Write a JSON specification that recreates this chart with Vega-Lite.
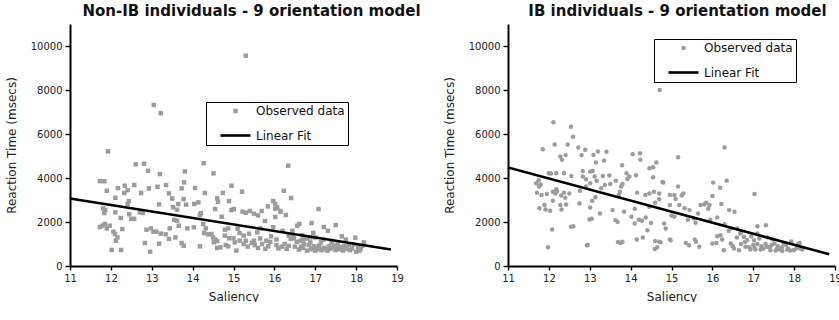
{
  "$schema": "https://vega.github.io/schema/vega-lite/v6.json",
  "background": "white",
  "padding": {"left": 5, "top": 4, "right": 0, "bottom": 0},
  "spacing": 22,
  "config": {
    "font": "DejaVu Sans",
    "view": {"stroke": null},
    "axis": {
      "grid": false,
      "domainColor": "#000",
      "domainWidth": 2,
      "tickColor": "#000",
      "tickWidth": 1.4,
      "labelFont": "DejaVu Sans",
      "labelFontSize": 10,
      "labelColor": "#222",
      "labelOverlap": false,
      "labelFlush": false,
      "titleFont": "DejaVu Sans",
      "titleFontSize": 12,
      "titleFontWeight": "normal",
      "titleColor": "#222"
    },
    "legend": {
      "title": null,
      "strokeColor": "#000",
      "fillColor": "#fff",
      "padding": 3,
      "rowPadding": -12,
      "labelFont": "DejaVu Sans",
      "labelFontSize": 12,
      "labelColor": "#111",
      "labelOffset": 4,
      "symbolOffset": 10,
      "symbolStrokeWidth": 2.6
    }
  },
  "resolve": {
    "scale": {"fill": "independent", "stroke": "independent", "shape": "independent", "size": "independent"},
    "legend": {"fill": "independent", "stroke": "independent", "shape": "independent", "size": "independent"}
  },
  "datasets": {
    "nonIB": [
      {"saliency": 11.93, "rt": 5210}, {"saliency": 13.05, "rt": 7320}, {"saliency": 13.22, "rt": 6950}, {"saliency": 15.30, "rt": 9560},
      {"saliency": 12.61, "rt": 4620}, {"saliency": 12.81, "rt": 4650}, {"saliency": 12.91, "rt": 4330}, {"saliency": 13.20, "rt": 4180},
      {"saliency": 13.81, "rt": 4300}, {"saliency": 14.27, "rt": 4670}, {"saliency": 14.51, "rt": 4210}, {"saliency": 16.34, "rt": 4560},
      {"saliency": 11.73, "rt": 3860}, {"saliency": 11.84, "rt": 3850}, {"saliency": 11.90, "rt": 3420}, {"saliency": 12.17, "rt": 3540},
      {"saliency": 12.34, "rt": 3650}, {"saliency": 12.41, "rt": 3450}, {"saliency": 12.57, "rt": 3680}, {"saliency": 12.33, "rt": 3320},
      {"saliency": 12.74, "rt": 3320}, {"saliency": 12.93, "rt": 3530}, {"saliency": 13.14, "rt": 3600}, {"saliency": 13.35, "rt": 3680},
      {"saliency": 13.42, "rt": 3300}, {"saliency": 13.50, "rt": 3070}, {"saliency": 13.79, "rt": 3800}, {"saliency": 13.73, "rt": 3530},
      {"saliency": 14.06, "rt": 3540}, {"saliency": 14.30, "rt": 3320}, {"saliency": 14.74, "rt": 3320}, {"saliency": 14.95, "rt": 3650},
      {"saliency": 12.11, "rt": 3100}, {"saliency": 12.44, "rt": 2950}, {"saliency": 12.41, "rt": 2820}, {"saliency": 11.81, "rt": 2620},
      {"saliency": 11.86, "rt": 2545}, {"saliency": 11.84, "rt": 2410}, {"saliency": 12.11, "rt": 2440}, {"saliency": 12.24, "rt": 2180},
      {"saliency": 12.45, "rt": 2350}, {"saliency": 12.50, "rt": 2140}, {"saliency": 12.57, "rt": 2140}, {"saliency": 12.71, "rt": 2440},
      {"saliency": 12.78, "rt": 2410}, {"saliency": 13.18, "rt": 2800}, {"saliency": 13.52, "rt": 2670}, {"saliency": 13.62, "rt": 2560},
      {"saliency": 13.65, "rt": 2820}, {"saliency": 13.78, "rt": 3045}, {"saliency": 13.84, "rt": 2790}, {"saliency": 14.04, "rt": 2820},
      {"saliency": 14.14, "rt": 2890}, {"saliency": 14.18, "rt": 2320}, {"saliency": 14.55, "rt": 2590}, {"saliency": 14.60, "rt": 3075},
      {"saliency": 14.62, "rt": 2920}, {"saliency": 14.71, "rt": 2240}, {"saliency": 14.89, "rt": 2950}, {"saliency": 14.95, "rt": 2545},
      {"saliency": 11.73, "rt": 1770}, {"saliency": 11.79, "rt": 1830}, {"saliency": 11.85, "rt": 1910}, {"saliency": 11.90, "rt": 1710},
      {"saliency": 11.97, "rt": 1830}, {"saliency": 12.06, "rt": 1560}, {"saliency": 12.10, "rt": 1455}, {"saliency": 12.16, "rt": 1300},
      {"saliency": 12.12, "rt": 1150}, {"saliency": 12.28, "rt": 1680}, {"saliency": 12.02, "rt": 730}, {"saliency": 12.25, "rt": 730},
      {"saliency": 12.87, "rt": 1650}, {"saliency": 12.98, "rt": 1710}, {"saliency": 13.04, "rt": 1560}, {"saliency": 12.83, "rt": 1045},
      {"saliency": 13.18, "rt": 1015}, {"saliency": 12.96, "rt": 650}, {"saliency": 13.11, "rt": 1560}, {"saliency": 13.22, "rt": 1470},
      {"saliency": 13.34, "rt": 1440}, {"saliency": 13.44, "rt": 1710}, {"saliency": 13.42, "rt": 1230}, {"saliency": 13.62, "rt": 2060},
      {"saliency": 13.66, "rt": 1830}, {"saliency": 13.58, "rt": 1300}, {"saliency": 13.73, "rt": 1045}, {"saliency": 13.78, "rt": 925},
      {"saliency": 13.87, "rt": 1710}, {"saliency": 14.03, "rt": 1760}, {"saliency": 14.18, "rt": 895}, {"saliency": 14.26, "rt": 1910},
      {"saliency": 14.32, "rt": 1710}, {"saliency": 14.28, "rt": 1500}, {"saliency": 14.38, "rt": 1440}, {"saliency": 14.46, "rt": 1455},
      {"saliency": 14.50, "rt": 1300}, {"saliency": 14.52, "rt": 1075}, {"saliency": 14.60, "rt": 1135}, {"saliency": 14.60, "rt": 820},
      {"saliency": 14.68, "rt": 850}, {"saliency": 14.81, "rt": 955}, {"saliency": 14.87, "rt": 895}, {"saliency": 14.79, "rt": 1380},
      {"saliency": 14.89, "rt": 1260}, {"saliency": 15.00, "rt": 1260}, {"saliency": 14.79, "rt": 1650}, {"saliency": 14.87, "rt": 1710},
      {"saliency": 15.03, "rt": 1075}, {"saliency": 16.23, "rt": 3420}, {"saliency": 16.41, "rt": 3090}, {"saliency": 15.21, "rt": 3380},
      {"saliency": 15.97, "rt": 2950}, {"saliency": 16.02, "rt": 2820}, {"saliency": 16.07, "rt": 2665}, {"saliency": 15.84, "rt": 2710},
      {"saliency": 15.69, "rt": 2500}, {"saliency": 15.50, "rt": 2380}, {"saliency": 15.30, "rt": 2425}, {"saliency": 15.22, "rt": 2470},
      {"saliency": 15.01, "rt": 2590}, {"saliency": 16.15, "rt": 2470}, {"saliency": 16.28, "rt": 2320}, {"saliency": 16.02, "rt": 2230},
      {"saliency": 15.77, "rt": 2045}, {"saliency": 17.08, "rt": 2590}, {"saliency": 16.61, "rt": 1910}, {"saliency": 16.56, "rt": 1830},
      {"saliency": 16.91, "rt": 1955}, {"saliency": 17.21, "rt": 1770}, {"saliency": 17.31, "rt": 1600}, {"saliency": 17.50, "rt": 1860},
      {"saliency": 15.97, "rt": 1760}, {"saliency": 15.66, "rt": 1710}, {"saliency": 15.58, "rt": 1530}, {"saliency": 15.38, "rt": 1470},
      {"saliency": 15.25, "rt": 1380}, {"saliency": 16.44, "rt": 1600}, {"saliency": 16.35, "rt": 1380}, {"saliency": 16.40, "rt": 1230},
      {"saliency": 16.48, "rt": 1260}, {"saliency": 16.64, "rt": 1150}, {"saliency": 16.72, "rt": 1000}, {"saliency": 16.84, "rt": 955},
      {"saliency": 16.88, "rt": 1075}, {"saliency": 16.97, "rt": 895}, {"saliency": 17.09, "rt": 925}, {"saliency": 17.14, "rt": 1075},
      {"saliency": 17.21, "rt": 830}, {"saliency": 17.33, "rt": 895}, {"saliency": 17.45, "rt": 925}, {"saliency": 17.55, "rt": 830},
      {"saliency": 17.70, "rt": 895}, {"saliency": 17.82, "rt": 985}, {"saliency": 17.94, "rt": 985}, {"saliency": 18.11, "rt": 775},
      {"saliency": 18.19, "rt": 1075}, {"saliency": 17.98, "rt": 1290}, {"saliency": 17.65, "rt": 1350}, {"saliency": 16.76, "rt": 1320},
      {"saliency": 16.88, "rt": 1300}, {"saliency": 15.15, "rt": 1150}, {"saliency": 15.25, "rt": 1000}, {"saliency": 15.35, "rt": 880},
      {"saliency": 15.45, "rt": 1050}, {"saliency": 15.52, "rt": 950}, {"saliency": 15.60, "rt": 820}, {"saliency": 15.70, "rt": 1000},
      {"saliency": 15.78, "rt": 780}, {"saliency": 15.85, "rt": 900}, {"saliency": 15.90, "rt": 1100}, {"saliency": 16.05, "rt": 950},
      {"saliency": 16.10, "rt": 800}, {"saliency": 16.18, "rt": 880}, {"saliency": 16.25, "rt": 1000}, {"saliency": 16.30, "rt": 780},
      {"saliency": 16.50, "rt": 880}, {"saliency": 16.60, "rt": 750}, {"saliency": 16.70, "rt": 820}, {"saliency": 16.80, "rt": 700},
      {"saliency": 16.90, "rt": 760}, {"saliency": 17.00, "rt": 700}, {"saliency": 17.05, "rt": 800}, {"saliency": 17.15, "rt": 720},
      {"saliency": 17.25, "rt": 760}, {"saliency": 17.30, "rt": 700}, {"saliency": 17.40, "rt": 800}, {"saliency": 17.50, "rt": 720},
      {"saliency": 17.60, "rt": 760}, {"saliency": 17.68, "rt": 700}, {"saliency": 17.75, "rt": 780}, {"saliency": 17.85, "rt": 720},
      {"saliency": 18.00, "rt": 650}, {"saliency": 18.05, "rt": 850}, {"saliency": 18.15, "rt": 920}, {"saliency": 17.00, "rt": 1300},
      {"saliency": 17.20, "rt": 1200}, {"saliency": 17.40, "rt": 1100}, {"saliency": 16.95, "rt": 1500}, {"saliency": 16.70, "rt": 1200},
      {"saliency": 15.65, "rt": 1250}, {"saliency": 15.10, "rt": 1700}, {"saliency": 15.15, "rt": 1500}, {"saliency": 15.40, "rt": 2500},
      {"saliency": 15.60, "rt": 2300}, {"saliency": 16.20, "rt": 1600}, {"saliency": 16.55, "rt": 1100}, {"saliency": 16.68, "rt": 1400},
      {"saliency": 16.80, "rt": 1250}, {"saliency": 15.07, "rt": 700}, {"saliency": 14.55, "rt": 1200}, {"saliency": 14.20, "rt": 2400},
      {"saliency": 13.55, "rt": 2100}, {"saliency": 16.95, "rt": 820}, {"saliency": 17.10, "rt": 760}, {"saliency": 17.35, "rt": 780},
      {"saliency": 17.55, "rt": 980}, {"saliency": 17.62, "rt": 860}, {"saliency": 17.78, "rt": 860}, {"saliency": 17.90, "rt": 800},
      {"saliency": 18.08, "rt": 700}, {"saliency": 16.65, "rt": 880}, {"saliency": 16.35, "rt": 920}, {"saliency": 16.05, "rt": 1200},
      {"saliency": 15.80, "rt": 1150}, {"saliency": 15.50, "rt": 1150}, {"saliency": 15.30, "rt": 1150}, {"saliency": 16.15, "rt": 2500},
      {"saliency": 16.02, "rt": 2600}, {"saliency": 15.92, "rt": 1350}, {"saliency": 16.45, "rt": 1430}, {"saliency": 17.75, "rt": 1200}
    ],
    "nonIBFit": [
      {"saliency": 11, "rt": 3070}, {"saliency": 18.85, "rt": 750}
    ],
    "IB": [
      {"saliency": 14.71, "rt": 8000}, {"saliency": 12.11, "rt": 6530}, {"saliency": 12.54, "rt": 6330}, {"saliency": 12.59, "rt": 5875},
      {"saliency": 11.85, "rt": 5310}, {"saliency": 12.14, "rt": 5525}, {"saliency": 12.46, "rt": 5525}, {"saliency": 12.28, "rt": 4975},
      {"saliency": 12.32, "rt": 4825}, {"saliency": 12.41, "rt": 5040}, {"saliency": 12.72, "rt": 5390}, {"saliency": 12.89, "rt": 5280},
      {"saliency": 12.80, "rt": 5040}, {"saliency": 13.09, "rt": 5050}, {"saliency": 13.20, "rt": 5205}, {"saliency": 13.41, "rt": 5190},
      {"saliency": 13.15, "rt": 4700}, {"saliency": 13.35, "rt": 4795}, {"saliency": 13.79, "rt": 4580}, {"saliency": 14.05, "rt": 5085},
      {"saliency": 14.23, "rt": 5130}, {"saliency": 14.24, "rt": 4825}, {"saliency": 14.46, "rt": 4445}, {"saliency": 14.55, "rt": 4490},
      {"saliency": 14.63, "rt": 4700}, {"saliency": 12.83, "rt": 4320}, {"saliency": 13.01, "rt": 4290}, {"saliency": 13.07, "rt": 4320},
      {"saliency": 12.00, "rt": 4215}, {"saliency": 12.18, "rt": 4215}, {"saliency": 12.37, "rt": 4215}, {"saliency": 12.55, "rt": 4095},
      {"saliency": 12.83, "rt": 4065}, {"saliency": 12.91, "rt": 3940}, {"saliency": 13.12, "rt": 4065}, {"saliency": 13.32, "rt": 4095},
      {"saliency": 13.48, "rt": 4110}, {"saliency": 13.90, "rt": 4215}, {"saliency": 13.97, "rt": 4065}, {"saliency": 14.13, "rt": 4125},
      {"saliency": 14.55, "rt": 4035}, {"saliency": 14.78, "rt": 3820}, {"saliency": 11.69, "rt": 3760}, {"saliency": 11.76, "rt": 3610},
      {"saliency": 11.71, "rt": 3335}, {"saliency": 11.82, "rt": 3225}, {"saliency": 11.95, "rt": 3275}, {"saliency": 12.10, "rt": 3380},
      {"saliency": 12.18, "rt": 3485}, {"saliency": 12.16, "rt": 3300}, {"saliency": 12.37, "rt": 3335}, {"saliency": 12.76, "rt": 3425},
      {"saliency": 12.91, "rt": 3610}, {"saliency": 13.01, "rt": 3760}, {"saliency": 13.17, "rt": 3880}, {"saliency": 13.28, "rt": 3530},
      {"saliency": 13.37, "rt": 3685}, {"saliency": 13.50, "rt": 3730}, {"saliency": 13.64, "rt": 3880}, {"saliency": 13.77, "rt": 3610},
      {"saliency": 13.80, "rt": 3730}, {"saliency": 13.74, "rt": 3380}, {"saliency": 13.71, "rt": 3225}, {"saliency": 13.92, "rt": 3950},
      {"saliency": 14.16, "rt": 3335}, {"saliency": 14.36, "rt": 3225}, {"saliency": 14.46, "rt": 3300}, {"saliency": 14.57, "rt": 3380},
      {"saliency": 14.70, "rt": 3300}, {"saliency": 14.96, "rt": 3225}, {"saliency": 11.77, "rt": 2620}, {"saliency": 11.89, "rt": 2770},
      {"saliency": 11.92, "rt": 2570}, {"saliency": 12.03, "rt": 2510}, {"saliency": 12.10, "rt": 2970}, {"saliency": 12.28, "rt": 2770},
      {"saliency": 12.31, "rt": 2570}, {"saliency": 12.42, "rt": 2800}, {"saliency": 12.75, "rt": 2845}, {"saliency": 13.06, "rt": 2970},
      {"saliency": 13.14, "rt": 3120}, {"saliency": 13.25, "rt": 2390}, {"saliency": 13.01, "rt": 2660}, {"saliency": 12.99, "rt": 2115},
      {"saliency": 12.60, "rt": 1810}, {"saliency": 12.54, "rt": 1780}, {"saliency": 12.08, "rt": 1660}, {"saliency": 11.98, "rt": 855},
      {"saliency": 12.93, "rt": 945}, {"saliency": 13.56, "rt": 2540}, {"saliency": 13.63, "rt": 2085}, {"saliency": 13.68, "rt": 1995},
      {"saliency": 13.84, "rt": 2465}, {"saliency": 14.02, "rt": 2235}, {"saliency": 14.10, "rt": 1930}, {"saliency": 14.28, "rt": 2055},
      {"saliency": 14.37, "rt": 2205}, {"saliency": 14.41, "rt": 1630}, {"saliency": 13.69, "rt": 1095}, {"saliency": 14.15, "rt": 1200},
      {"saliency": 14.60, "rt": 1140}, {"saliency": 14.73, "rt": 1080}, {"saliency": 14.59, "rt": 775}, {"saliency": 14.80, "rt": 3790},
      {"saliency": 14.82, "rt": 1930}, {"saliency": 14.86, "rt": 1705}, {"saliency": 14.96, "rt": 1200}, {"saliency": 14.46, "rt": 2695},
      {"saliency": 14.60, "rt": 2875}, {"saliency": 14.70, "rt": 3030}, {"saliency": 14.96, "rt": 2770}, {"saliency": 16.30, "rt": 5390},
      {"saliency": 15.16, "rt": 4945}, {"saliency": 15.16, "rt": 3610}, {"saliency": 15.29, "rt": 3300}, {"saliency": 15.07, "rt": 3225},
      {"saliency": 15.19, "rt": 2770}, {"saliency": 15.32, "rt": 2620}, {"saliency": 15.44, "rt": 2540}, {"saliency": 15.07, "rt": 2235},
      {"saliency": 16.02, "rt": 3790}, {"saliency": 16.19, "rt": 3560}, {"saliency": 16.35, "rt": 3880}, {"saliency": 16.00, "rt": 3180},
      {"saliency": 17.03, "rt": 3275}, {"saliency": 15.71, "rt": 2770}, {"saliency": 15.85, "rt": 2875}, {"saliency": 15.93, "rt": 2770},
      {"saliency": 15.90, "rt": 2600}, {"saliency": 16.22, "rt": 2815}, {"saliency": 16.41, "rt": 2540}, {"saliency": 16.54, "rt": 2465},
      {"saliency": 15.65, "rt": 2390}, {"saliency": 15.55, "rt": 2160}, {"saliency": 15.59, "rt": 1965}, {"saliency": 16.12, "rt": 2205},
      {"saliency": 14.98, "rt": 1170}, {"saliency": 15.35, "rt": 1050}, {"saliency": 15.43, "rt": 945}, {"saliency": 15.57, "rt": 1200},
      {"saliency": 15.68, "rt": 870}, {"saliency": 16.00, "rt": 1020}, {"saliency": 16.12, "rt": 1355}, {"saliency": 16.20, "rt": 1400},
      {"saliency": 16.24, "rt": 1200}, {"saliency": 16.28, "rt": 715}, {"saliency": 16.45, "rt": 1020}, {"saliency": 16.61, "rt": 1705},
      {"saliency": 16.68, "rt": 1475}, {"saliency": 16.77, "rt": 1325}, {"saliency": 16.85, "rt": 1170}, {"saliency": 17.10, "rt": 1810},
      {"saliency": 17.31, "rt": 1855}, {"saliency": 17.10, "rt": 1475}, {"saliency": 17.02, "rt": 1170}, {"saliency": 16.53, "rt": 790},
      {"saliency": 16.65, "rt": 715}, {"saliency": 16.81, "rt": 870}, {"saliency": 16.93, "rt": 745}, {"saliency": 17.03, "rt": 835},
      {"saliency": 17.18, "rt": 745}, {"saliency": 17.34, "rt": 870}, {"saliency": 17.42, "rt": 715}, {"saliency": 17.52, "rt": 1020},
      {"saliency": 17.59, "rt": 790}, {"saliency": 17.71, "rt": 685}, {"saliency": 17.83, "rt": 745}, {"saliency": 17.93, "rt": 1110},
      {"saliency": 17.99, "rt": 715}, {"saliency": 18.14, "rt": 1050}, {"saliency": 18.15, "rt": 790}, {"saliency": 17.47, "rt": 1200},
      {"saliency": 17.75, "rt": 1020}, {"saliency": 11.75, "rt": 3900}, {"saliency": 11.80, "rt": 3700}, {"saliency": 12.05, "rt": 4200},
      {"saliency": 12.20, "rt": 3400}, {"saliency": 12.30, "rt": 3200}, {"saliency": 12.40, "rt": 3100}, {"saliency": 12.50, "rt": 3300},
      {"saliency": 12.95, "rt": 950}, {"saliency": 13.05, "rt": 2150}, {"saliency": 13.75, "rt": 1050}, {"saliency": 13.80, "rt": 1100},
      {"saliency": 14.10, "rt": 2600}, {"saliency": 14.20, "rt": 2100}, {"saliency": 14.30, "rt": 1300}, {"saliency": 14.50, "rt": 1950},
      {"saliency": 14.65, "rt": 850}, {"saliency": 14.70, "rt": 1100}, {"saliency": 15.00, "rt": 2300}, {"saliency": 15.10, "rt": 3050},
      {"saliency": 15.25, "rt": 3200}, {"saliency": 15.40, "rt": 2100}, {"saliency": 15.60, "rt": 1100}, {"saliency": 16.10, "rt": 1050},
      {"saliency": 16.40, "rt": 1600}, {"saliency": 16.50, "rt": 900}, {"saliency": 16.60, "rt": 1300}, {"saliency": 16.70, "rt": 1000},
      {"saliency": 16.80, "rt": 1100}, {"saliency": 16.90, "rt": 850}, {"saliency": 17.00, "rt": 950}, {"saliency": 17.05, "rt": 750},
      {"saliency": 17.10, "rt": 1000}, {"saliency": 17.20, "rt": 900}, {"saliency": 17.25, "rt": 800}, {"saliency": 17.30, "rt": 1000},
      {"saliency": 17.40, "rt": 850}, {"saliency": 17.45, "rt": 950}, {"saliency": 17.55, "rt": 700}, {"saliency": 17.60, "rt": 900},
      {"saliency": 17.65, "rt": 750}, {"saliency": 17.70, "rt": 850}, {"saliency": 17.80, "rt": 950}, {"saliency": 17.85, "rt": 800},
      {"saliency": 17.90, "rt": 700}, {"saliency": 18.05, "rt": 800}, {"saliency": 18.10, "rt": 1000}, {"saliency": 18.20, "rt": 750},
      {"saliency": 17.15, "rt": 1250}, {"saliency": 17.35, "rt": 1300}, {"saliency": 16.95, "rt": 1350}, {"saliency": 16.30, "rt": 1900},
      {"saliency": 16.45, "rt": 1700}, {"saliency": 16.70, "rt": 1550}, {"saliency": 15.80, "rt": 2800}, {"saliency": 15.95, "rt": 2100}
    ],
    "IBFit": [
      {"saliency": 11, "rt": 4480}, {"saliency": 18.86, "rt": 530}
    ]
  },
  "hconcat": [
    {
      "width": 327,
      "height": 242,
      "title": {"text": "Non-IB individuals - 9 orientation model", "font": "DejaVu Sans", "fontSize": 15, "fontWeight": "bold", "color": "#111", "anchor": "middle", "dx": 18, "offset": 5},
      "layer": [
        {
          "data": {"name": "nonIB"},
          "mark": {"type": "point", "filled": true, "opacity": 1},
          "encoding": {
            "x": {
              "field": "saliency", "type": "quantitative",
              "scale": {"domain": [11, 19], "nice": false, "zero": false},
              "axis": {
                "title": "Saliency",
                "values": [11, 11.5, 12, 12.5, 13, 13.5, 14, 14.5, 15, 15.5, 16, 16.5, 17, 17.5, 18, 18.5, 19],
                "labelExpr": "datum.value % 1 === 0 ? format(datum.value, 'd') : ''",
                "tickSize": {"condition": {"test": "datum.value % 1 === 0", "value": 4}, "value": 2.5},
                "labelPadding": 3,
                "titlePadding": 8
              }
            },
            "y": {
              "field": "rt", "type": "quantitative",
              "scale": {"domain": [0, 11000], "nice": false},
              "axis": {
                "title": "Reaction Time (msecs)",
                "values": [0, 500, 1000, 1500, 2000, 2500, 3000, 3500, 4000, 4500, 5000, 5500, 6000, 6500, 7000, 7500, 8000, 8500, 9000, 9500, 10000, 10500, 11000],
                "labelExpr": "datum.value % 1000 === 0 ? format(datum.value, 'd') : ''",
                "tickSize": {"condition": {"test": "datum.value % 1000 === 0", "value": 5}, "value": 2.5},
                "labelPadding": 3,
                "titlePadding": 12
              }
            },
            "fill": {
              "datum": "Observed data", "type": "nominal",
              "scale": {"domain": ["Observed data", "Linear Fit"], "range": ["#9c9c9c", "transparent"]},
              "legend": {"orient": "none", "legendX": 136, "legendY": 78, "title": null}
            },
            "stroke": {
              "datum": "Observed data", "type": "nominal",
              "scale": {"domain": ["Observed data", "Linear Fit"], "range": ["transparent", "#000000"]},
              "legend": {"orient": "none", "legendX": 136, "legendY": 78, "title": null}
            },
            "shape": {
              "datum": "Observed data", "type": "nominal",
              "scale": {"domain": ["Observed data", "Linear Fit"], "range": ["square", "stroke"]},
              "legend": {"orient": "none", "legendX": 136, "legendY": 78, "title": null}
            },
            "size": {
              "datum": "Observed data", "type": "ordinal",
              "scale": {"domain": ["Observed data", "Linear Fit"], "range": [20, 900]},
              "legend": {"orient": "none", "legendX": 136, "legendY": 78, "title": null}
            }
          }
        },
        {
          "data": {"name": "nonIBFit"},
          "mark": {"type": "line", "strokeWidth": 2.6, "color": "#000"},
          "encoding": {
            "x": {"field": "saliency", "type": "quantitative"},
            "y": {"field": "rt", "type": "quantitative"}
          }
        }
      ]
    },
    {
      "width": 327,
      "height": 242,
      "title": {"text": "IB individuals - 9 orientation model", "font": "DejaVu Sans", "fontSize": 15, "fontWeight": "bold", "color": "#111", "anchor": "middle", "dx": 6, "offset": 5},
      "layer": [
        {
          "data": {"name": "IB"},
          "mark": {"type": "point", "filled": true, "opacity": 1},
          "encoding": {
            "x": {
              "field": "saliency", "type": "quantitative",
              "scale": {"domain": [11, 19], "nice": false, "zero": false},
              "axis": {
                "title": "Saliency",
                "values": [11, 11.5, 12, 12.5, 13, 13.5, 14, 14.5, 15, 15.5, 16, 16.5, 17, 17.5, 18, 18.5, 19],
                "labelExpr": "datum.value % 1 === 0 ? format(datum.value, 'd') : ''",
                "tickSize": {"condition": {"test": "datum.value % 1 === 0", "value": 4}, "value": 2.5},
                "labelPadding": 3,
                "titlePadding": 8
              }
            },
            "y": {
              "field": "rt", "type": "quantitative",
              "scale": {"domain": [0, 11000], "nice": false},
              "axis": {
                "title": "Reaction Time (msecs)",
                "values": [0, 500, 1000, 1500, 2000, 2500, 3000, 3500, 4000, 4500, 5000, 5500, 6000, 6500, 7000, 7500, 8000, 8500, 9000, 9500, 10000, 10500, 11000],
                "labelExpr": "datum.value % 1000 === 0 ? format(datum.value, 'd') : ''",
                "tickSize": {"condition": {"test": "datum.value % 1000 === 0", "value": 5}, "value": 2.5},
                "labelPadding": 3,
                "titlePadding": 12
              }
            },
            "fill": {
              "datum": "Observed data", "type": "nominal",
              "scale": {"domain": ["Observed data", "Linear Fit"], "range": ["#9c9c9c", "transparent"]},
              "legend": {"orient": "none", "legendX": 146, "legendY": 15, "title": null}
            },
            "stroke": {
              "datum": "Observed data", "type": "nominal",
              "scale": {"domain": ["Observed data", "Linear Fit"], "range": ["transparent", "#000000"]},
              "legend": {"orient": "none", "legendX": 146, "legendY": 15, "title": null}
            },
            "shape": {
              "datum": "Observed data", "type": "nominal",
              "scale": {"domain": ["Observed data", "Linear Fit"], "range": ["circle", "stroke"]},
              "legend": {"orient": "none", "legendX": 146, "legendY": 15, "title": null}
            },
            "size": {
              "datum": "Observed data", "type": "ordinal",
              "scale": {"domain": ["Observed data", "Linear Fit"], "range": [20, 900]},
              "legend": {"orient": "none", "legendX": 146, "legendY": 15, "title": null}
            }
          }
        },
        {
          "data": {"name": "IBFit"},
          "mark": {"type": "line", "strokeWidth": 2.6, "color": "#000"},
          "encoding": {
            "x": {"field": "saliency", "type": "quantitative"},
            "y": {"field": "rt", "type": "quantitative"}
          }
        }
      ]
    }
  ]
}
